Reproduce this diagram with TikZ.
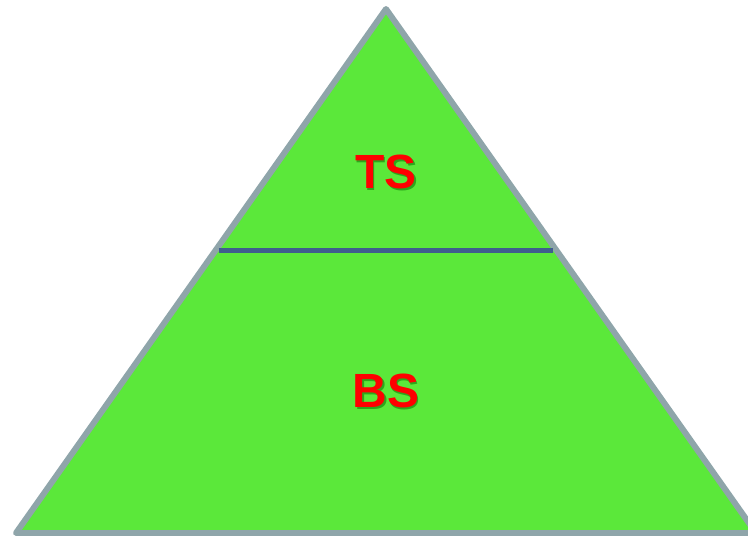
\documentclass[tikz,border=0pt]{standalone}
\usepackage{fontspec}
\setmainfont{Liberation Sans}
\usetikzlibrary{calc}
\definecolor{pyrgreen}{HTML}{5BE83A}
\definecolor{pyredge}{HTML}{8FA5AA}
\definecolor{pyrline}{HTML}{3F5E8E}
\definecolor{pyrred}{HTML}{FF0000}
\begin{document}
\begin{tikzpicture}
[x=1pt, y=-1pt,
 level/.style={text=pyrred, font=\fontsize{48}{50}\selectfont\bfseries},
 shade/.style={text=black!60!green, opacity=0.5, font=\fontsize{48}{50}\selectfont\bfseries}]
\useasboundingbox (0,0) rectangle (748,536);
\coordinate (apex) at (386,9);
\coordinate (bl) at (16,533);
\coordinate (br) at (756,533);
\filldraw [fill=pyrgreen, draw=pyredge, line width=6pt, line join=round] (apex) -- (bl) -- (br) -- cycle;
\coordinate (cutl) at ($(apex)!0.4603!(bl)$);
\coordinate (cutr) at ($(apex)!0.4603!(br)$);
\draw [pyrline, line width=5pt] ([xshift=3pt]cutl) -- ([xshift=-3pt]cutr);
\node [shade] at (387.5,173.5) {TS};
\node [level] (ts) at (386,172) {TS};
\node [shade] at (387.5,392.5) {BS};
\node [level] (bs) at (386,391) {BS};
\end{tikzpicture}
\end{document}
